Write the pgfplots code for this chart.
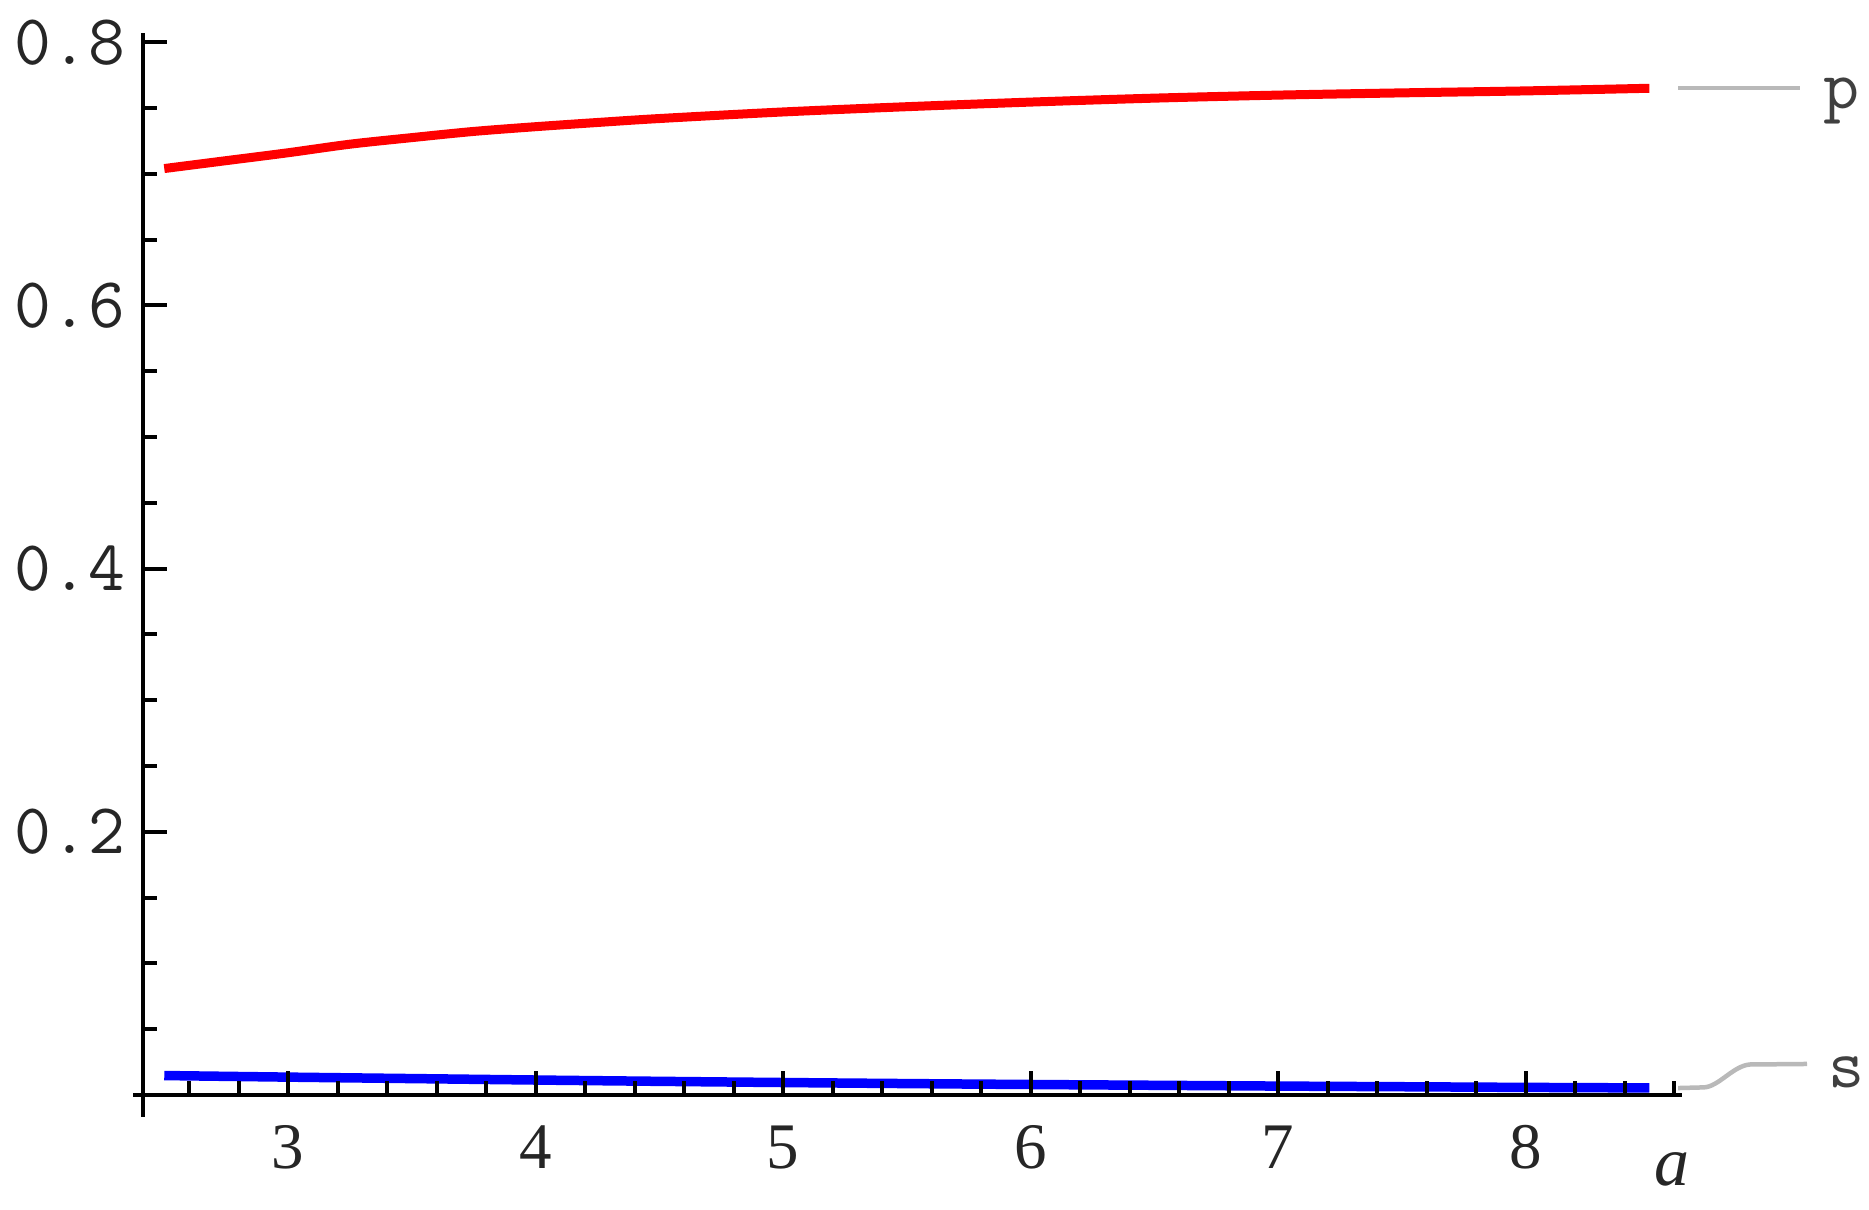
\documentclass[border=0pt]{standalone}
\usepackage{fontspec}
\setmainfont{Liberation Serif}
\usepackage{pgfplots}
\pgfplotsset{compat=1.18}
\begin{document}
\begin{tikzpicture}
\begin{axis}[
  scale only axis, width=307.8pt, height=212.4pt,
  xmin=2.414, xmax=8.632, ymin=0, ymax=0.807,
  axis x line=bottom, axis y line=left,
  axis line style={-, line width=0.8pt, black},
  axis on top,
  clip=false,
  tick align=inside,
  xtick={3,4,5,6,7,8},
  minor xtick={2.6,2.8,3.2,3.4,3.6,3.8,4.2,4.4,4.6,4.8,5.2,5.4,5.6,5.8,6.2,6.4,6.6,6.8,7.2,7.4,7.6,7.8,8.2,8.4,8.6},
  ytick={0.2,0.4,0.6,0.8},
  yticklabels={0.2,0.4,0.6,0.8},
  minor ytick={0.05,0.1,0.15,0.25,0.3,0.35,0.45,0.5,0.55,0.65,0.7,0.75},
  major tick length=4.8pt, minor tick length=2.8pt,
  every tick/.style={black, line width=0.8pt},
  /pgf/number format/assume math mode=true,
  xticklabel style={font=\fontsize{13}{15}\selectfont, text=black!85, yshift=-2.6pt},
  yticklabel style={font=\ttfamily\fontsize{14.3}{16}\selectfont, text=black!85},
]
\addplot[red, line width=1.8pt, line join=round, smooth] coordinates {
(2.5,0.704) (2.75,0.710) (3.0,0.716) (3.25,0.7225) (3.5,0.7275) (3.75,0.7322)
(4.0,0.7358) (4.25,0.739) (4.5,0.742) (5.0,0.747) (5.5,0.751) (6.0,0.7545) (6.5,0.7575)
(7.0,0.7598) (7.5,0.7615) (8.0,0.763) (8.5,0.765)
};
\addplot[blue, line width=1.9pt, line join=round, smooth] coordinates {
(2.5,0.0148) (3.0,0.0136) (3.5,0.0125) (4.0,0.0114) (4.5,0.0104) (5.0,0.0095)
(5.5,0.0087) (6.0,0.0080) (6.5,0.0074) (7.0,0.0068) (7.5,0.0063) (8.0,0.0058) (8.5,0.0054)
};
\coordinate (O) at (axis cs:2.414,0);
\draw[line width=0.8pt] (axis cs:2.414,0) -- (axis cs:2.414,-0.0167);
\draw[line width=0.8pt] (axis cs:2.374,0) -- (axis cs:2.414,0);
\draw[gray!55, line width=0.9pt] (axis cs:8.616,0.7652) -- (axis cs:9.109,0.7652);
\node[anchor=base west, font=\ttfamily\fontsize{14}{16}\selectfont, text=black!75, inner sep=0pt] at (axis cs:9.20,0.750) {p};
\draw[gray!55, line width=0.9pt] (axis cs:8.616,0.0053) -- (axis cs:8.72,0.0058) .. controls (axis cs:8.78,0.0062) and (axis cs:8.84,0.0225) .. (axis cs:8.907,0.0232) -- (axis cs:9.137,0.0236);
\node[anchor=base west, font=\ttfamily\fontsize{14}{16}\selectfont, text=black!75, inner sep=0pt] at (axis cs:9.22,0.006) {s};
\node[anchor=base, font=\itshape\fontsize{14}{16}\selectfont, text=black!85, inner sep=0pt] at (axis cs:8.592,-0.0684) {a};
\end{axis}
\pgfresetboundingbox
\path ([shift={(-28.6pt,-22.8pt)}]O) rectangle ++(373.8pt,241.8pt);
\end{tikzpicture}
\end{document}
